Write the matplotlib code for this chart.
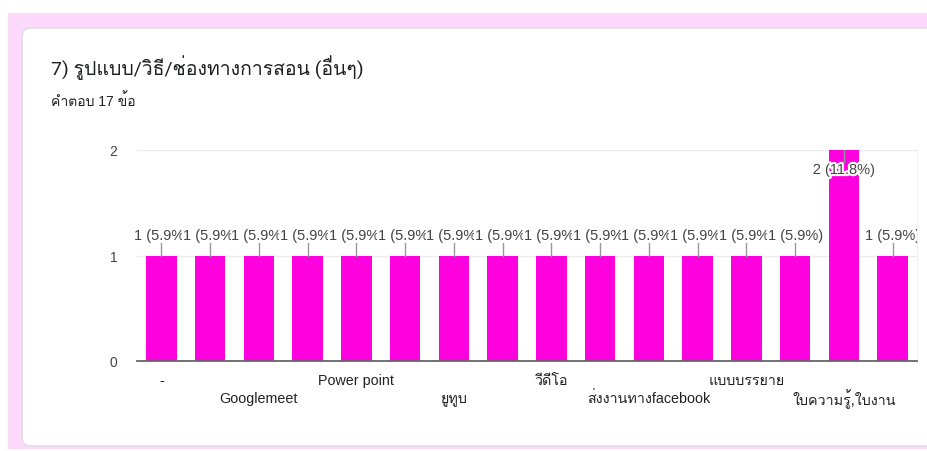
import matplotlib
matplotlib.use('Agg')
import matplotlib.pyplot as plt
import matplotlib.patheffects as pe
from matplotlib import font_manager
from matplotlib.patches import FancyBboxPatch, Rectangle
from matplotlib.transforms import Bbox, TransformedBbox
from fontTools.ttLib import TTFont

# ข้อมูล
categories = ['-', '', 'Googlemeet', '', 'Power point', '', 'ยูทูบ', '',
              'วีดีโอ', '', 'ส่งงานทางfacebook', '', 'แบบบรรยาย', '',
              'ใบความรู้,ใบงาน', '']
counts = [1, 1, 1, 1, 1, 1, 1, 1, 1, 1, 1, 1, 1, 1, 2, 1]
total = 17
y_ticks = [0, 1, 2]
title = '7) รูปแบบ/วิธี/ช่องทางการสอน (อื่นๆ)'
subtitle = 'คำตอบ 17 ข้อ'


def thai_fonts():
    names = []
    for f in font_manager.fontManager.ttflist:
        try:
            cmap = TTFont(f.fname, fontNumber=0, lazy=True).getBestCmap()
        except Exception:
            continue
        if cmap and 0x0E01 in cmap and f.name not in names:
            names.append(f.name)
    return names


fams = ['Liberation Sans'] + thai_fonts() + ['DejaVu Sans']
plt.rcParams['font.family'] = fams

fig = plt.figure(figsize=(9.27, 4.52), dpi=100)
W, H = 927, 452

# พื้นหลัง
bg = fig.add_axes([0, 0, 1, 1])
bg.set_xlim(0, W)
bg.set_ylim(H, 0)
bg.axis('off')
bg.add_patch(Rectangle((8, 14), W - 8, 436, color='#fdd9fc', lw=0))
bg.add_patch(FancyBboxPatch((22, 29), W + 20, 418, boxstyle='round,pad=0,rounding_size=9',
                            fc='white', ec='#dadce0', lw=1))
bg.text(51, 68, title, fontsize=14, color='#202124', va='center',
        family=['Roboto'] + fams)
bg.text(51, 101, subtitle, fontsize=10, color='#202124', va='center')

ax = fig.add_axes([137 / W, 90 / H, 780 / W, 211 / H])
x = list(range(len(categories)))
ax.bar(x, counts, width=0.63, color='#ff00de', zorder=2)
ax.set_xlim(-0.5, len(categories) - 0.5)
ax.set_ylim(0, 2)
ax.set_yticks(y_ticks)
ax.set_yticklabels([str(v) for v in y_ticks], fontsize=10, color='#444444')
ax.tick_params(axis='y', length=0, pad=14)
ax.set_xticks([])
for s in ['top', 'left']:
    ax.spines[s].set_visible(False)
ax.spines['right'].set_color('#f0f0f0')
ax.spines['bottom'].set_color('#666666')
ax.spines['bottom'].set_linewidth(1.3)
ax.spines['bottom'].set_zorder(3)
ax.grid(axis='y', color='#ebebeb', lw=1, zorder=0)

# ตัดข้อความที่ขอบขวาของกราฟ
clip = TransformedBbox(Bbox([[100 / W, 0], [917 / W, 1]]), fig.transFigure)

# ป้ายค่าบนแท่ง
for i, v in enumerate(counts):
    label = '%d (%.1f%%)' % (v, v / total * 100)
    if v >= max(counts):
        ax.plot([i, i], [v, v - 0.115], color='#999999', lw=1, zorder=3)
        t = ax.text(i, v - 0.19, label, ha='center', va='center', fontsize=10.5, color='#444444',
                    zorder=4, path_effects=[pe.withStroke(linewidth=3, foreground='white')])
    else:
        ax.plot([i, i], [v, v + 0.115], color='#999999', lw=1, zorder=3)
        t = ax.text(i, v + 0.194, label, ha='center', va='center', fontsize=10.5, color='#444444',
                    zorder=4, bbox=dict(boxstyle='square,pad=0.05', fc='white', ec='none'))
    t.set_clip_on(True)
    t.set_clip_box(clip)

# ป้ายแกน x สลับสองแถว
k = 0
for i, c in enumerate(categories):
    if not c:
        continue
    off = -19 if k % 2 == 0 else -37
    ax.annotate(c, (i, 0), xycoords=('data', 'axes fraction'), xytext=(0, off),
                textcoords='offset pixels', ha='center', va='center', fontsize=10.3,
                color='#222222', annotation_clip=False)
    k += 1

fig.savefig('out.png', dpi=100)
